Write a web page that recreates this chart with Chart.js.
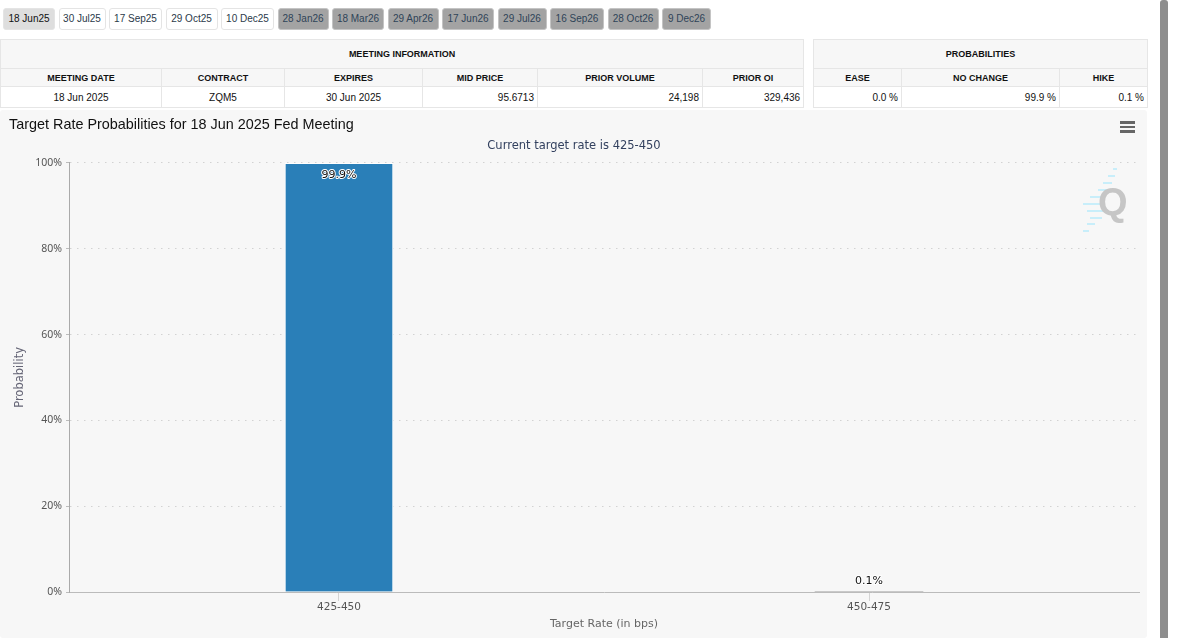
<!DOCTYPE html>
<html>
<head>
<meta charset="utf-8">
<title>Target Rate Probabilities</title>
<script src="https://cdn.jsdelivr.net/npm/chart.js@4"></script>
<style>
  html, body { margin: 0; padding: 0; background: #fff; overflow: hidden; }
  body { width: 1200px; height: 638px; position: relative; font-family: "Liberation Sans", Arial, sans-serif; color: #111; }
  #tabs { position: absolute; left: 3px; top: 8px; display: flex; }
  .tab { box-sizing: border-box; height: 22px; line-height: 20px; border: 1px solid #e4e4e4; border-radius: 3px; background: #fff; font-size: 10px; text-align: center; color: #2b3a4a; }
  .tab.active { background: #dedede; color: #111; }
  .tab.off { background: #a3a3a3; border-color: #c4c4c4; color: #2f4358; }
  table { position: absolute; top: 39px; border-collapse: collapse; table-layout: fixed; font-size: 10px; background: #fff; }
  th, td { border: 1px solid #e6e6e6; padding: 0 3px; box-sizing: border-box; }
  th { background: #f7f7f7; font-weight: bold; text-align: center; color: #111; }
  tr.group th { height: 29px; font-size: 9px; }
  tr.head th { height: 18px; font-size: 9px; }
  td { height: 21px; text-align: right; }
  td.c { text-align: center; }
  #panel { position: absolute; left: 0; top: 110px; width: 1147px; height: 528px; background: #f7f7f7; border-radius: 3px; }
  #chart { position: absolute; left: 0; top: 0; }
  #menu { position: absolute; left: 1120px; top: 121px; width: 15px; }
  #menu span { display: block; height: 2.5px; margin-bottom: 2px; background: #666; }
  #logo { position: absolute; left: 1082px; top: 168px; width: 50px; height: 68px; }
  #scroll { position: absolute; left: 1160px; top: 0; width: 8px; height: 638px; background: #8e8e8e; border-radius: 3px 3px 0 0; }
</style>
</head>
<body>
<div id="tabs"></div>
<table id="info" style="left:0;width:803px"></table>
<table id="probs" style="left:813px;width:334px"></table>
<div id="panel"><canvas id="chart" width="1147" height="528"></canvas></div>
<div id="menu"><span></span><span></span><span></span></div>
<svg id="logo" viewBox="0 0 50 68">
  <g stroke="#c8eefa" stroke-width="2">
    <line x1="31" y1="1" x2="35" y2="1"/><line x1="26" y1="8" x2="33" y2="8"/>
    <line x1="21" y1="15" x2="30" y2="15"/><line x1="16" y1="22" x2="26" y2="22"/>
    <line x1="8" y1="29" x2="22" y2="29"/><line x1="1" y1="36" x2="22" y2="36"/>
    <line x1="5" y1="43" x2="22" y2="43"/><line x1="8" y1="50" x2="20" y2="50"/>
    <line x1="5" y1="56" x2="13" y2="56"/><line x1="1" y1="63" x2="7" y2="63"/>
  </g>
  <text x="16" y="47" font-family="Liberation Sans" font-weight="bold" font-size="38" fill="#c6c6c6">Q</text>
</svg>
<div id="scroll"></div>

<script>
// chart data
const rateLabels = ['425-450', '450-475'];
const probValues = [99.9, 0.1];
const yTicks = [0, 20, 40, 60, 80, 100];

// meeting tabs
const activeMeetings = ['18 Jun25', '30 Jul25', '17 Sep25', '29 Oct25', '10 Dec25'];
const laterMeetings = ['28 Jan26', '18 Mar26', '29 Apr26', '17 Jun26', '29 Jul26', '16 Sep26', '28 Oct26', '9 Dec26'];
const tabWidths = [52, 47, 53, 52, 53, 51, 52, 51, 52, 49, 54, 51, 49];
const tabGap = 3.5;

// tables
const infoHeaders = ['MEETING DATE', 'CONTRACT', 'EXPIRES', 'MID PRICE', 'PRIOR VOLUME', 'PRIOR OI'];
const infoRow = ['18 Jun 2025', 'ZQM5', '30 Jun 2025', '95.6713', '24,198', '329,436'];
const infoWidths = [161, 123, 138, 115, 165, 101];
const probHeaders = ['EASE', 'NO CHANGE', 'HIKE'];
const probRow = ['0.0 %', '99.9 %', '0.1 %'];
const probWidths = [88, 158, 88];

function fillTabs() {
  const box = document.getElementById('tabs');
  activeMeetings.concat(laterMeetings).forEach((name, i) => {
    const el = document.createElement('div');
    el.className = 'tab' + (i === 0 ? ' active' : '') + (i >= activeMeetings.length ? ' off' : '');
    el.style.width = tabWidths[i] + 'px';
    el.style.marginRight = tabGap + 'px';
    el.textContent = name;
    box.appendChild(el);
  });
}

function fillTable(id, title, headers, row, widths, centered) {
  const cols = widths.map(w => `<col style="width:${w}px">`).join('');
  const head = headers.map(h => `<th>${h}</th>`).join('');
  const cells = row.map((v, i) => `<td class="${centered.includes(i) ? 'c' : ''}">${v}</td>`).join('');
  document.getElementById(id).innerHTML =
    `<colgroup>${cols}</colgroup>
     <tr class="group"><th colspan="${headers.length}">${title}</th></tr>
     <tr class="head">${head}</tr><tr>${cells}</tr>`;
}

fillTabs();
fillTable('info', 'MEETING INFORMATION', infoHeaders, infoRow, infoWidths, [0, 1, 2]);
fillTable('probs', 'PROBABILITIES', probHeaders, probRow, probWidths, []);

// bar value labels, white halo inside the tall bar
const barLabels = {
  id: 'barLabels',
  afterDatasetsDraw(chart) {
    const ctx = chart.ctx;
    ctx.save();
    ctx.font = '11px "DejaVu Sans"';
    ctx.textAlign = 'center';
    ctx.textBaseline = 'middle';
    chart.getDatasetMeta(0).data.forEach((bar, i) => {
      const text = probValues[i].toFixed(1) + '%';
      const inside = probValues[i] > 50;
      const y = inside ? bar.y + 12 : bar.y - 10;
      ctx.lineJoin = 'round';
      ctx.lineWidth = 2;
      ctx.strokeStyle = '#ffffff';
      ctx.strokeText(text, bar.x, y);
      ctx.fillStyle = '#111';
      ctx.fillText(text, bar.x, y);
    });
    ctx.restore();
  }
};

new Chart(document.getElementById('chart'), {
  type: 'bar',
  data: {
    datasets: [{
      data: probValues.map((v, i) => ({ x: i, y: v })),
      // the 0.1% bar is under a pixel tall, it just melts into the axis line
      backgroundColor: ctx => (probValues[ctx.dataIndex] > 1 ? '#2a7fb8' : '#bbbbbb'),
      borderColor: '#ffffff',
      borderWidth: ctx => (probValues[ctx.dataIndex] > 1 ? 1 : 0),
      borderRadius: 1,
      barThickness: 108
    }]
  },
  options: {
    responsive: false,
    animation: false,
    layout: { padding: { left: 9, right: 8, top: 0, bottom: 0 } },
    plugins: {
      legend: { display: false },
      tooltip: { enabled: false },
      title: {
        display: true,
        text: 'Target Rate Probabilities for 18 Jun 2025 Fed Meeting',
        align: 'start',
        color: '#111',
        font: { family: '"Liberation Sans"', size: 14.4, weight: 'normal' },
        padding: { top: 6.4, bottom: 5.4 }
      },
      subtitle: {
        display: true,
        text: 'Current target rate is 425-450',
        color: '#33415f',
        font: { family: '"DejaVu Sans"', size: 11.5, weight: 'normal' },
        padding: { top: 0, bottom: 10 }
      }
    },
    scales: {
      x: {
        // linear so the two categories can sit slightly inside the plot edges
        type: 'linear',
        min: -0.5094,
        max: 1.5094,
        offset: false,
        afterFit(scale) { scale.height = 46; },
        afterBuildTicks(scale) { scale.ticks = rateLabels.map((_, i) => ({ value: i })); },
        grid: { offset: false, drawOnChartArea: false, tickLength: 9, tickColor: '#d4d4d4' },
        border: { color: '#bbbbbb' },
        ticks: {
          color: '#555',
          padding: 0,
          font: { family: '"DejaVu Sans"', size: 10.5 },
          callback: v => rateLabels[v]
        },
        title: {
          display: true,
          text: 'Target Rate (in bps)',
          color: '#666',
          font: { family: '"DejaVu Sans"', size: 11 },
          padding: { top: 4, bottom: 7.4 }
        }
      },
      y: {
        min: 0,
        max: 100,
        afterFit(scale) { scale.width = 60; },
        afterBuildTicks(scale) { scale.ticks = yTicks.map(v => ({ value: v })); },
        grid: {
          color: '#d2d2d2',
          lineWidth: 1,
          tickLength: 3,
          tickColor: '#bbbbbb',
          tickBorderDash: []
        },
        border: { color: '#aaaaaa', dash: [1.5, 5.5] },
        ticks: {
          color: '#555',
          padding: 4,
          font: { family: '"Noto Sans"', size: 10.5 },
          callback: v => v + '%'
        },
        title: {
          display: true,
          text: 'Probability',
          color: '#667',
          font: { family: '"DejaVu Sans"', size: 11.5 },
          padding: { top: 4, bottom: 0 }
        }
      }
    }
  },
  plugins: [barLabels]
});
</script>
</body>
</html>
